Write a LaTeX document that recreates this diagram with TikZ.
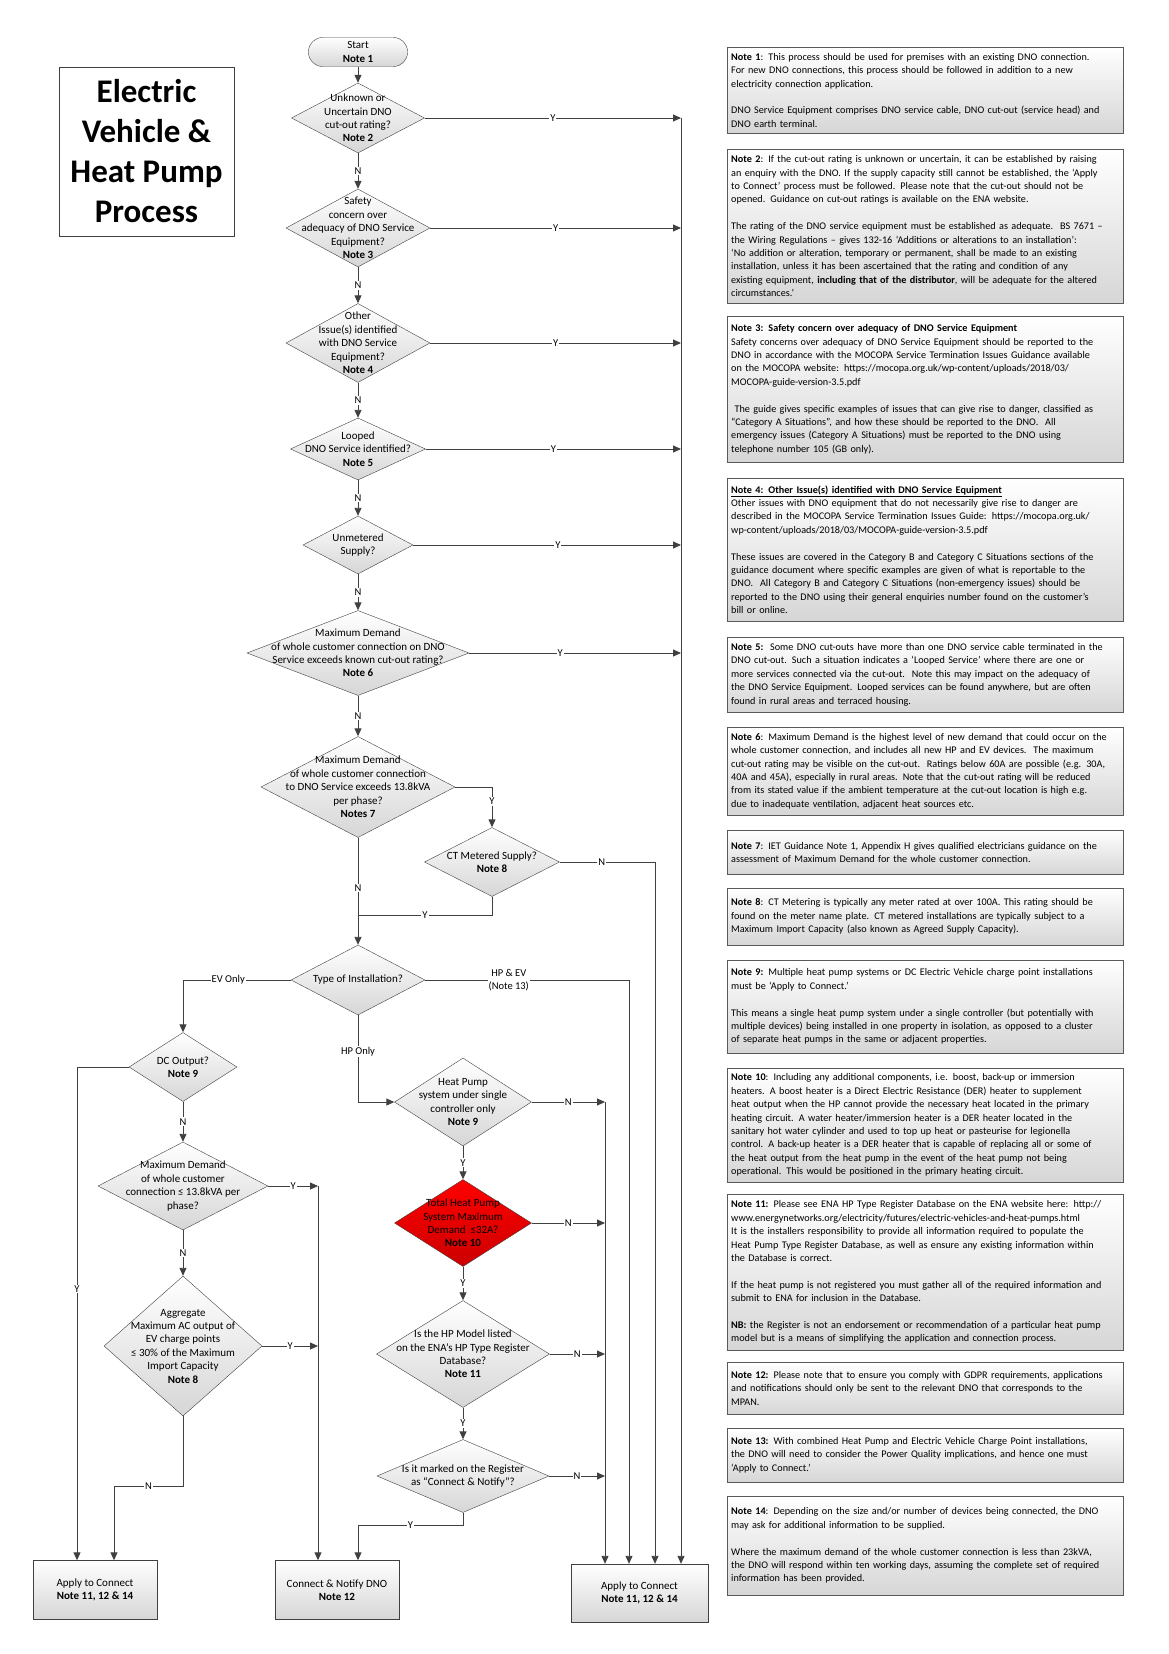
\documentclass[tikz,border=0pt]{standalone}
\usepackage{fontspec}
\setmainfont{Carlito}
\usetikzlibrary{positioning,arrows.meta,shapes.geometric}
\definecolor{linegray}{HTML}{404040}
\definecolor{boxgray}{HTML}{D6D6D6}
\definecolor{hpred}{HTML}{FF0000}
\definecolor{hpdark}{HTML}{CC0000}
\newcommand{\flowfont}{\fontsize{11}{13.4}\selectfont}
\newcommand{\notefont}{\fontsize{10.2}{13.4}\selectfont}
\newcommand{\gap}{\\[13.4pt]}

\begin{document}
\begin{tikzpicture}[x=1pt, y=-1pt,
    flow/.style={draw=linegray, line width=0.9pt},
    arr/.style={flow, -{Triangle[length=8pt,width=7pt]}},
    lbl/.style={fill=white, inner sep=1pt, font=\fontsize{10.5}{13}\selectfont, align=center},
    dia/.style={diamond, draw=linegray, top color=white, bottom color=boxgray, inner sep=0pt},
    dtxt/.style={align=center, font=\flowfont, inner sep=0pt},
    endbox/.style={draw=linegray, top color=white, bottom color=boxgray, align=center, font=\flowfont},
    note/.style={draw=gray!70!black, top color=white, bottom color=boxgray, anchor=north west,
      minimum width=396, text width=388, inner xsep=4pt, align=left, font=\notefont}]
  \useasboundingbox (0,0) rectangle (1169,1654);

  % title
  \node[draw=linegray, minimum width=175, minimum height=169, align=center,
    font=\fontsize{33}{40}\selectfont\bfseries] (title) at (146.5,151.5)
    {Electric\\Vehicle \&\\Heat Pump\\Process};

  % main column
  \node[endbox, rounded corners=14pt, minimum width=99, minimum height=29] (start) at (358,52)
    {Start\\\textbf{Note 1}};
  \node[dia, minimum width=133, minimum height=70] (d1) at (358,118) {};
  \node[dtxt] (d1t) at (d1) {Unknown or\\Uncertain DNO\\cut-out rating?\\\textbf{Note 2}};
  \node[dia, minimum width=144, minimum height=78] (d2) at (358,228) {};
  \node[dtxt] (d2t) at (d2) {Safety\\concern over\\adequacy of DNO Service\\Equipment?\\\textbf{Note 3}};
  \node[dia, minimum width=144, minimum height=79] (d3) at (358,343) {};
  \node[dtxt] (d3t) at (d3) {Other\\Issue(s) identified\\with DNO Service\\Equipment?\\\textbf{Note 4}};
  \node[dia, minimum width=135, minimum height=62] (d4) at (358,449) {};
  \node[dtxt] (d4t) at (d4) {Looped\\DNO Service identified?\\\textbf{Note 5}};
  \node[dia, minimum width=110, minimum height=58] (d5) at (358,545) {};
  \node[dtxt] (d5t) at (d5) {Unmetered\\Supply?};
  \node[dia, minimum width=222, minimum height=85] (d6) at (358,653) {};
  \node[dtxt] (d6t) at (d6) {Maximum Demand\\of whole customer connection on DNO\\Service exceeds known cut-out rating?\\\textbf{Note 6}};
  \node[dia, minimum width=194, minimum height=101] (d7) at (358,787) {};
  \node[dtxt] (d7t) at (d7) {Maximum Demand\\of whole customer connection\\to DNO Service exceeds 13.8kVA\\per phase?\\\textbf{Notes 7}};
  \node[dia, minimum width=135, minimum height=69] (d8) at (492,862) {};
  \node[dtxt] (d8t) at (d8) {CT Metered Supply?\\\textbf{Note 8}};
  \node[dia, minimum width=134, minimum height=70] (d9) at (358,980) {};
  \node[dtxt] (d9t) at (d9) {Type of Installation?};

  % EV branch
  \node[dia, minimum width=108, minimum height=69] (d10) at (183,1067) {};
  \node[dtxt] (d10t) at (d10) {DC Output?\\\textbf{Note 9}};
  \node[dia, minimum width=170, minimum height=88] (d12) at (183,1186) {};
  \node[dtxt] (d12t) at (d12) {Maximum Demand\\of whole customer\\connection ≤ 13.8kVA per\\phase?};
  \node[dia, minimum width=158, minimum height=140] (d13) at (183,1346) {};
  \node[dtxt] (d13t) at (d13) {Aggregate\\Maximum AC output of\\EV charge points\\≤ 30\% of the Maximum\\Import Capacity\\\textbf{Note 8}};

  % HP branch
  \node[dia, minimum width=137, minimum height=88] (d11) at (463,1102) {};
  \node[dtxt] (d11t) at (d11) {Heat Pump\\system under single\\controller only\\\textbf{Note 9}};
  \node[dia, top color=hpred, bottom color=hpdark, minimum width=137, minimum height=87] (d14) at (463,1223) {};
  \node[dtxt] (d14t) at (d14) {Total Heat Pump\\System Maximum\\Demand\ \ ≤32A?\\\textbf{Note 10}};
  \node[dia, minimum width=173, minimum height=107] (d15) at (463,1354) {};
  \node[dtxt] (d15t) at (d15) {Is the HP Model listed\\on the ENA’s HP Type Register\\Database?\\\textbf{Note 11}};
  \node[dia, minimum width=172, minimum height=73] (d16) at (463,1476) {};
  \node[dtxt] (d16t) at (d16) {Is it marked on the Register\\as “Connect \& Notify”?};

  % end boxes
  \node[endbox, minimum width=124, minimum height=59] (a1) at (95,1590) {Apply to Connect\\\textbf{Note 11, 12 \& 14}};
  \node[endbox, minimum width=124, minimum height=59] (cn) at (337,1590) {Connect \& Notify DNO\\\textbf{Note 12}};
  \node[endbox, minimum width=137, minimum height=58] (a2) at (639.5,1593) {Apply to Connect\\\textbf{Note 11, 12 \& 14}};

  % bus lines
  \coordinate (busy) at (681,118);
  \coordinate (busct) at (655,862);
  \coordinate (bushe) at (629,980);
  \coordinate (bushp) at (605,1102);
  \coordinate (ctj) at (358,915);
  \coordinate (evy) at (77,1067);
  \coordinate (cny) at (318,1186);
  \coordinate (evn) at (114,1486);
  \coordinate (cnj) at (358,1525);

  % main column connectors
  \draw[arr] (start) -- (d1);
  \draw[arr] (d1) -- node[lbl]{N} (d2);
  \draw[arr] (d2) -- node[lbl]{N} (d3);
  \draw[arr] (d3) -- node[lbl]{N} (d4);
  \draw[arr] (d4) -- node[lbl]{N} (d5);
  \draw[arr] (d5) -- node[lbl]{N} (d6);
  \draw[arr] (d6) -- node[lbl]{N} (d7);
  \draw[arr] (d7) -- node[lbl,pos=0.47]{N} (d9);
  \draw[arr] (d7.east) -| node[lbl,pos=0.68]{Y} (d8);
  \draw[flow] (d8.south) |- node[lbl,pos=0.75]{Y} (ctj);
  \draw[arr] (d1.east) -- node[lbl]{Y} (d1.east -| busy);
  \draw[arr] (d2.east) -- node[lbl]{Y} (d2.east -| busy);
  \draw[arr] (d3.east) -- node[lbl]{Y} (d3.east -| busy);
  \draw[arr] (d4.east) -- node[lbl]{Y} (d4.east -| busy);
  \draw[arr] (d5.east) -- node[lbl,pos=0.54]{Y} (d5.east -| busy);
  \draw[arr] (d6.east) -- node[lbl,pos=0.43]{Y} (d6.east -| busy);
  \draw[arr] (busy) -- (busy |- a2.north);
  \draw[arr] (d8.east) -- node[lbl,pos=0.44]{N} (busct) -- (busct |- a2.north);

  % installation type
  \draw[arr] (d9.east) -- node[lbl,pos=0.41]{HP \& EV\\(Note 13)} (bushe) -- (bushe |- a2.north);
  \draw[arr] (d9.west) -| node[lbl,pos=0.29]{EV Only} (d10);
  \draw[arr] (d9.south) |- node[lbl,pos=0.21]{HP Only} (d11);

  % EV connectors
  \draw[arr] (d10.west) -- (evy) -- node[lbl,pos=0.45]{Y} (evy |- a1.north);
  \draw[arr] (d10) -- node[lbl]{N} (d12);
  \draw[arr] (d12) -- node[lbl]{N} (d13);
  \draw[arr] (d12.east) -- node[lbl]{Y} (cny);
  \draw[arr] (d13.east) -- node[lbl]{Y} (d13.east -| cny);
  \draw[arr] (cny) -- (cny |- cn.north);
  \draw[arr] (d13.south) |- node[lbl,pos=0.75]{N} (evn) -- (evn |- a1.north);

  % HP connectors
  \draw[arr] (d11) -- node[lbl]{Y} (d14);
  \draw[arr] (d14) -- node[lbl]{Y} (d15);
  \draw[arr] (d15) -- node[lbl]{Y} (d16);
  \draw[arr] (d11.east) -- node[lbl]{N} (bushp);
  \draw[arr] (d14.east) -- node[lbl]{N} (d14.east -| bushp);
  \draw[arr] (d15.east) -- node[lbl]{N} (d15.east -| bushp);
  \draw[arr] (d16.east) -- node[lbl]{N} (d16.east -| bushp);
  \draw[arr] (bushp) -- (bushp |- a2.north);
  \draw[arr] (d16.south) |- node[lbl,pos=0.75]{Y} (cnj) -- (cn.north -| cnj);

  % notes
  \node[note, minimum height=86] (n1) at (727,47) {\textbf{Note 1}: This process should be used for premises with an existing DNO connection.\\
For new DNO connections, this process should be followed in addition to a new\\
electricity connection application.\gap
DNO Service Equipment comprises DNO service cable, DNO cut-out (service head) and\\
DNO earth terminal.};
  \node[note, minimum height=154] (n2) at (727,149) {\textbf{Note 2}: If the cut-out rating is unknown or uncertain, it can be established by raising\\
an enquiry with the DNO. If the supply capacity still cannot be established, the ‘Apply\\
to Connect’ process must be followed. Please note that the cut-out should not be\\
opened. Guidance on cut-out ratings is available on the ENA website.\gap
The rating of the DNO service equipment must be established as adequate.\ \ BS 7671 –\\
the Wiring Regulations – gives 132-16 ‘Additions or alterations to an installation’:\\
‘No addition or alteration, temporary or permanent, shall be made to an existing\\
installation, unless it has been ascertained that the rating and condition of any\\
existing equipment, \textbf{including that of the distributor}, will be adequate for the altered\\
circumstances.’};
  \node[note, minimum height=146] (n3) at (727,316) {\textbf{Note 3: Safety concern over adequacy of DNO Service Equipment}\\
Safety concerns over adequacy of DNO Service Equipment should be reported to the\\
DNO in accordance with the MOCOPA Service Termination Issues Guidance available\\
on the MOCOPA website: https://mocopa.org.uk/wp-content/uploads/2018/03/\\
MOCOPA-guide-version-3.5.pdf\gap
\ The guide gives specific examples of issues that can give rise to danger, classified as\\
“Category A Situations”, and how these should be reported to the DNO.\ \ All\\
emergency issues (Category A Situations) must be reported to the DNO using\\
telephone number 105 (GB only).};
  \node[note, minimum height=143] (n4) at (727,478) {\underline{\textbf{Note 4: Other Issue(s) identified with DNO Service Equipment}}\\
Other issues with DNO equipment that do not necessarily give rise to danger are\\
described in the MOCOPA Service Termination Issues Guide: https://mocopa.org.uk/\\
wp-content/uploads/2018/03/MOCOPA-guide-version-3.5.pdf\gap
These issues are covered in the Category B and Category C Situations sections of the\\
guidance document where specific examples are given of what is reportable to the\\
DNO.\ \ All Category B and Category C Situations (non-emergency issues) should be\\
reported to the DNO using their general enquiries number found on the customer’s\\
bill or online.};
  \node[note, minimum height=75] (n5) at (727,637) {\textbf{Note 5:}\ \ Some DNO cut-outs have more than one DNO service cable terminated in the\\
DNO cut-out. Such a situation indicates a ‘Looped Service’ where there are one or\\
more services connected via the cut-out.\ \ Note this may impact on the adequacy of\\
the DNO Service Equipment. Looped services can be found anywhere, but are often\\
found in rural areas and terraced housing.};
  \node[note, minimum height=88] (n6) at (727,727) {\textbf{Note 6}: Maximum Demand is the highest level of new demand that could occur on the\\
whole customer connection, and includes all new HP and EV devices.\ \ The maximum\\
cut-out rating may be visible on the cut-out.\ \ Ratings below 60A are possible (e.g. 30A,\\
40A and 45A), especially in rural areas. Note that the cut-out rating will be reduced\\
from its stated value if the ambient temperature at the cut-out location is high e.g.\\
due to inadequate ventilation, adjacent heat sources etc.};
  \node[note, minimum height=44] (n7) at (727,830) {\textbf{Note 7}: IET Guidance Note 1, Appendix H gives qualified electricians guidance on the\\
assessment of Maximum Demand for the whole customer connection.};
  \node[note, minimum height=57] (n8) at (727,888) {\textbf{Note 8}: CT Metering is typically any meter rated at over 100A. This rating should be\\
found on the meter name plate. CT metered installations are typically subject to a\\
Maximum Import Capacity (also known as Agreed Supply Capacity).};
  \node[note, minimum height=93] (n9) at (727,960) {\textbf{Note 9:} Multiple heat pump systems or DC Electric Vehicle charge point installations\\
must be ‘Apply to Connect.’\gap
This means a single heat pump system under a single controller (but potentially with\\
multiple devices) being installed in one property in isolation, as opposed to a cluster\\
of separate heat pumps in the same or adjacent properties.};
  \node[note, minimum height=114] (n10) at (727,1068) {\textbf{Note 10}: Including any additional components, i.e. boost, back-up or immersion\\
heaters. A boost heater is a Direct Electric Resistance (DER) heater to supplement\\
heat output when the HP cannot provide the necessary heat located in the primary\\
heating circuit. A water heater/immersion heater is a DER heater located in the\\
sanitary hot water cylinder and used to top up heat or pasteurise for legionella\\
control. A back-up heater is a DER heater that is capable of replacing all or some of\\
the heat output from the heat pump in the event of the heat pump not being\\
operational. This would be positioned in the primary heating circuit.};
  \node[note, minimum height=156] (n11) at (727,1194) {\textbf{Note 11:} Please see ENA HP Type Register Database on the ENA website here: http://\\
www.energynetworks.org/electricity/futures/electric-vehicles-and-heat-pumps.html\\
It is the installers responsibility to provide all information required to populate the\\
Heat Pump Type Register Database, as well as ensure any existing information within\\
the Database is correct.\gap
If the heat pump is not registered you must gather all of the required information and\\
submit to ENA for inclusion in the Database.\gap
\textbf{NB:} the Register is not an endorsement or recommendation of a particular heat pump\\
model but is a means of simplifying the application and connection process.};
  \node[note, minimum height=52] (n12) at (727,1362) {\textbf{Note 12:} Please note that to ensure you comply with GDPR requirements, applications\\
and notifications should only be sent to the relevant DNO that corresponds to the\\
MPAN.};
  \node[note, minimum height=54] (n13) at (727,1428) {\textbf{Note 13:} With combined Heat Pump and Electric Vehicle Charge Point installations,\\
the DNO will need to consider the Power Quality implications, and hence one must\\
‘Apply to Connect.’};
  \node[note, minimum height=99] (n14) at (727,1496) {\textbf{Note 14}: Depending on the size and/or number of devices being connected, the DNO\\
may ask for additional information to be supplied.\gap
Where the maximum demand of the whole customer connection is less than 23kVA,\\
the DNO will respond within ten working days, assuming the complete set of required\\
information has been provided.};
\end{tikzpicture}
\end{document}
